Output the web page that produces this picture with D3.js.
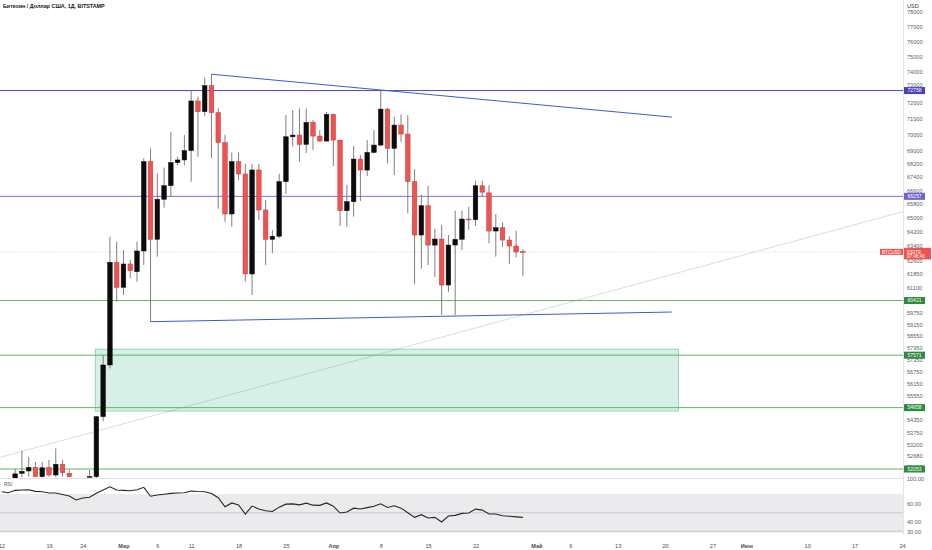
<!DOCTYPE html>
<html>
<head>
<meta charset="utf-8">
<script src="https://cdn.jsdelivr.net/npm/d3@7"></script>
<style>
  html, body { margin: 0; padding: 0; background: #fff; }
  svg { display: block; font-family: "Liberation Sans", Arial, sans-serif; }
</style>
</head>
<body>
<div id="chart"></div>
<script>
// daily bars, BTC/USD, Feb 12 - Apr 29 2024 (null = bar sits below the visible pane)
const days = [
  "02-12","02-13","02-14","02-15","02-16","02-17","02-18","02-19","02-20","02-21",
  "02-22","02-23","02-24","02-25","02-26","02-27","02-28","02-29","03-01","03-02",
  "03-03","03-04","03-05","03-06","03-07","03-08","03-09","03-10","03-11","03-12",
  "03-13","03-14","03-15","03-16","03-17","03-18","03-19","03-20","03-21","03-22",
  "03-23","03-24","03-25","03-26","03-27","03-28","03-29","03-30","03-31","04-01",
  "04-02","04-03","04-04","04-05","04-06","04-07","04-08","04-09","04-10","04-11",
  "04-12","04-13","04-14","04-15","04-16","04-17","04-18","04-19","04-20","04-21",
  "04-22","04-23","04-24","04-25","04-26","04-27","04-28","04-29"
];
const open = [
  null,null,51000,51855,51961,52131,51700,52131,51777,52270,
  51855,null,null,51690,51700,54519,57072,62500,61134,62407,
  61983,63130,68323,63787,66085,66886,68262,68425,68991,72093,
  71414,73077,71351,69481,65231,68323,67582,61857,67822,65462,
  63787,63960,67123,69844,69949,69376,70739,69887,69580,71241,
  69640,65418,65941,68480,67816,68885,69333,71576,69130,70570,
  70011,67130,64027,65708,63460,63800,61256,63463,63790,64940,
  64900,66880,66462,64254,64443,63744,63407,63100
];
const high = [
  null,null,52050,52900,52610,52380,52380,52470,53015,52470,
  52020,null,null,52007,54560,57579,63934,63652,63186,62628,
  63652,68528,69137,67624,67960,70161,68625,69957,72799,72368,
  73596,73818,71629,69957,68870,68869,68183,68183,68183,66040,
  64311,67600,71197,71513,71620,71620,70883,70260,71400,71300,
  69640,66922,69272,68722,69640,70259,72763,71658,71090,71240,
  71197,67870,66350,66880,64380,64600,64030,65420,65420,65650,
  67177,67177,66922,65228,64750,63970,64270,63222
];
const low = [
  null,null,50800,51680,51700,51680,51670,51700,51680,51700,
  51680,null,null,51660,51500,54300,56900,60359,60718,61639,
  61437,62352,59300,62812,65596,66237,68123,68100,67120,68625,
  71150,68528,65540,64788,64500,67219,61437,60717,64882,62350,
  63001,63850,66400,69250,68323,68850,69027,69540,69540,68057,
  64540,64500,65072,65982,67457,68820,69250,68219,67517,69520,
  65268,61300,62150,62350,61690,59650,60870,59650,63180,64311,
  64556,66220,63558,62812,63368,62406,62776,61763
];
const close = [
  null,null,51830,51947,52131,51700,52110,51777,52270,51883,
  51700,null,null,51710,54519,57072,62500,61134,62407,62038,
  63130,68323,63787,66085,66886,68262,68425,68991,72093,71414,
  73077,71351,69481,65231,68323,67582,61857,67822,65462,63787,
  63960,67123,69844,69949,69376,70739,69887,69580,71241,69640,
  65418,65941,68480,67816,68885,69333,71576,69130,70570,70011,
  67130,64027,65708,63460,63800,61256,63463,63780,64940,64900,
  66880,66503,64254,64443,63744,63407,63071,63079
];
const rsi = [
  72.4,71.4,73.9,74.2,74.5,72.8,72.4,71.1,71.1,69.5,
  67.9,63.7,65.8,66.5,70.7,74.2,77.7,74.2,73.9,73.5,
  74.5,77.1,67.6,68.9,69.8,70.7,71.0,71.4,73.2,72.6,
  72.4,70.5,66.1,56.3,60.5,58.4,48.6,57.1,54.0,52.1,
  51.4,56.0,59.2,59.5,58.4,60.2,58.1,57.9,60.5,57.0,
  49.7,50.7,54.9,54.0,55.5,57.0,59.5,55.6,57.4,54.9,
  50.0,45.1,47.9,44.4,45.1,40.2,46.5,47.2,49.3,49.7,
  53.9,52.8,48.6,48.6,46.8,46.2,45.6,45.1
];

// horizontal levels
const levelValues = [72758, 66257, 60421, 57571, 54958, 52053];
const levelKinds = ["res1", "res2", "sup", "sup", "sup", "sup"];

// drawings: [date, price]
const upperTrend = [["03-14", 73818], ["05-21", 71070]];
const lowerTrend = [["03-05", 59300], ["05-21", 59810]];
const grayRay = [["02-12", 52610], ["04-29", 59650]];
const zone = { from: "02-25T20:00", to: "05-22", top: 57880, bottom: 54790 };

const lastPrice = 63079;
const countdown = "07:46:40";

const priceTicks = [78000, 77000, 76000, 75000, 74000, 73000, 72000, 71000, 70000, 69000,
  68200, 67400, 66600, 65800, 65000, 64200, 63400, 62600, 61850, 61100,
  59750, 59150, 58550, 57950, 57350, 56750, 56150, 55550, 54350, 53750,
  53200, 52680, 52160];
const rsiTicks = [60, 40, 30];
const timeTickDates = ["02-12","02-19","02-24","03-01","03-06","03-11","03-18","03-25","04-01",
  "04-08","04-15","04-22","05-01","05-06","05-13","05-20","05-27","06-01","06-10","06-17","06-24"];
const timeTickLabels = ["12","19","24","Мар","6","11","18","25","Апр",
  "8","15","22","Май","6","13","20","27","Июн","10","17","24"];
const monthLabels = ["Мар", "Апр", "Май", "Июн"];

const width = 932, height = 550;
const plotR = 903, mainB = 478, rsiB = 535;

const parse = s => d3.isoParse("2024-" + s + (s.includes("T") ? "Z" : "T00:00Z"));

const svg = d3.select("#chart").append("svg")
  .attr("width", width).attr("height", height)
  .attr("viewBox", `0 0 ${width} ${height}`);

const x = d3.scaleUtc()
  .domain([parse("02-12"), parse("06-24")])
  .range([1.6, 902]);
const y = d3.scaleLog()
  .domain([51640, 78830])
  .range([mainB, 0]);
const yR = d3.scaleLinear()
  .domain([30, 70])
  .range([531.5, 494]);

const style = {
  res1: { line: "#4b45c8", label: "#4a3fc0" },
  res2: { line: "#7b6fe0", label: "#6f62d2" },
  sup: { line: "#5cb860", label: "#2e8b3c" }
};

const defs = svg.append("defs");
defs.append("clipPath").attr("id", "clipMain")
  .append("rect").attr("x", 0).attr("y", 0).attr("width", plotR).attr("height", mainB);
defs.append("clipPath").attr("id", "clipRsi")
  .append("rect").attr("x", 0).attr("y", mainB).attr("width", plotR).attr("height", rsiB - mainB);

// ---------- RSI pane ----------
const rsiG = svg.append("g").attr("clip-path", "url(#clipRsi)");
rsiG.append("rect")
  .attr("x", 0).attr("width", plotR)
  .attr("y", yR(70)).attr("height", yR(30) - yR(70))
  .attr("fill", "#ebebee");
rsiG.append("line")
  .attr("x1", 0).attr("x2", plotR).attr("y1", yR(50)).attr("y2", yR(50))
  .attr("stroke", "#c9c9ce").attr("stroke-width", 1);
rsiG.append("line")
  .attr("x1", 0).attr("x2", plotR).attr("y1", yR(30)).attr("y2", yR(30))
  .attr("stroke", "#d0d0d5").attr("stroke-width", 1.6);
rsiG.append("path")
  .datum(rsi.map((v, i) => [parse(days[i]), v]))
  .attr("fill", "none")
  .attr("stroke", "#262626")
  .attr("stroke-width", 1.1)
  .attr("d", d3.line().x(d => x(d[0])).y(d => yR(d[1])));
svg.append("text").attr("x", 4).attr("y", 486)
  .attr("font-size", 5).attr("fill", "#555").text("RSI");

// pane borders
svg.append("line").attr("x1", 0).attr("x2", plotR).attr("y1", mainB + 0.5).attr("y2", mainB + 0.5)
  .attr("stroke", "#e3e4e8");
svg.append("line").attr("x1", plotR + 0.5).attr("x2", plotR + 0.5).attr("y1", 0).attr("y2", rsiB)
  .attr("stroke", "#e3e4e8");

// ---------- main pane ----------
const main = svg.append("g").attr("clip-path", "url(#clipMain)");

// light gray ray, extended across the pane
const gx0 = x(parse(grayRay[0][0])), gy0 = y(grayRay[0][1]);
const gx1 = x(parse(grayRay[1][0])), gy1 = y(grayRay[1][1]);
const gs = (gy1 - gy0) / (gx1 - gx0);
main.append("line")
  .attr("x1", 0).attr("y1", gy0 + gs * (0 - gx0))
  .attr("x2", plotR).attr("y2", gy0 + gs * (plotR - gx0))
  .attr("stroke", "#d4d4d4").attr("stroke-width", 0.8);

// demand zone
main.append("rect")
  .attr("x", x(parse(zone.from)))
  .attr("width", x(parse(zone.to)) - x(parse(zone.from)))
  .attr("y", y(zone.top))
  .attr("height", y(zone.bottom) - y(zone.top))
  .attr("fill", "rgba(0,160,110,0.16)")
  .attr("stroke", "rgba(0,160,110,0.45)")
  .attr("stroke-width", 0.8);

// current price line
main.append("line")
  .attr("x1", 0).attr("x2", plotR).attr("y1", y(lastPrice)).attr("y2", y(lastPrice))
  .attr("stroke", "#e2b3b3").attr("stroke-width", 0.6).attr("stroke-dasharray", "1,1.5");

// horizontal levels
main.selectAll("line.level")
  .data(levelValues)
  .enter().append("line")
  .attr("class", "level")
  .attr("x1", 0).attr("x2", plotR)
  .attr("y1", d => y(d)).attr("y2", d => y(d))
  .attr("stroke", (d, i) => style[levelKinds[i]].line)
  .attr("stroke-width", 1);

// trend lines
[upperTrend, lowerTrend].forEach(t => {
  main.append("line")
    .attr("x1", x(parse(t[0][0]))).attr("y1", y(t[0][1]))
    .attr("x2", x(parse(t[1][0]))).attr("y2", y(t[1][1]))
    .attr("stroke", "#3f5cc8").attr("stroke-width", 1);
});

// candles
const bars = days.map((d, i) => ({ t: parse(d), o: open[i], h: high[i], l: low[i], c: close[i] }))
  .filter(b => b.o != null);
const bw = 4.6;
const candle = main.append("g").selectAll("g")
  .data(bars)
  .enter().append("g");
candle.append("line")
  .attr("x1", d => x(d.t)).attr("x2", d => x(d.t))
  .attr("y1", d => y(d.h)).attr("y2", d => y(d.l))
  .attr("stroke", "#707070").attr("stroke-width", 0.9);
candle.append("rect")
  .attr("x", d => x(d.t) - bw / 2)
  .attr("width", bw)
  .attr("y", d => y(Math.max(d.o, d.c)))
  .attr("height", d => Math.max(0.9, Math.abs(y(d.o) - y(d.c))))
  .attr("fill", d => d.c >= d.o ? "#0c0c0c" : "#ef5350")
  .attr("stroke", d => d.c >= d.o ? "#0c0c0c" : "#c23f3c")
  .attr("stroke-width", 0.5);

// ---------- axes ----------
const yAxis = svg.append("g")
  .attr("transform", `translate(${plotR + 3},0)`)
  .call(d3.axisRight(y).tickValues(priceTicks).tickFormat(d3.format("d")).tickSize(0));
yAxis.select(".domain").remove();
yAxis.selectAll("text")
  .attr("x", 1).attr("font-size", 5.6).attr("fill", "#5d606b")
  .attr("font-family", "Liberation Sans, Arial, sans-serif");
// the 73000 tick sits just above the 72758 tag; lift it clear of the tag
yAxis.selectAll(".tick").filter(d => d === 73000).select("text").attr("y", -2.4);

const rAxis = svg.append("g")
  .attr("transform", `translate(${plotR + 3},0)`)
  .call(d3.axisRight(yR).tickValues(rsiTicks).tickFormat(d3.format(".2f")).tickSize(0));
rAxis.select(".domain").remove();
rAxis.selectAll("text")
  .attr("x", 1).attr("font-size", 5.6).attr("fill", "#5d606b")
  .attr("font-family", "Liberation Sans, Arial, sans-serif");
svg.append("text").attr("x", plotR + 4).attr("y", 481)
  .attr("font-size", 5.6).attr("fill", "#5d606b").text("100.00");

const xAxis = svg.append("g")
  .attr("transform", `translate(0,${rsiB + 6})`)
  .call(d3.axisBottom(x)
    .tickValues(timeTickDates.map(parse))
    .tickFormat((d, i) => timeTickLabels[i])
    .tickSize(0));
xAxis.select(".domain").remove();
xAxis.selectAll("text")
  .attr("font-size", 5.6).attr("fill", "#4a4d57")
  .attr("font-weight", (d, i) => monthLabels.includes(timeTickLabels[i]) ? "bold" : "normal")
  .attr("font-family", "Liberation Sans, Arial, sans-serif");

// ---------- axis labels for levels ----------
const tag = svg.append("g");
levelValues.forEach((v, i) => {
  const yy = y(v);
  tag.append("rect")
    .attr("x", plotR + 1).attr("y", yy - 3.5).attr("width", 21).attr("height", 7)
    .attr("fill", style[levelKinds[i]].label);
  tag.append("text")
    .attr("x", plotR + 11.5).attr("y", yy + 1.8)
    .attr("text-anchor", "middle").attr("font-size", 5).attr("fill", "#fff")
    .text(v);
});

// current price tag
const py = y(lastPrice);
tag.append("rect")
  .attr("x", plotR + 1).attr("y", py - 4).attr("width", 27).attr("height", 11.5)
  .attr("fill", "#ef5350");
tag.append("text").attr("x", plotR + 4).attr("y", py + 1.8)
  .attr("font-size", 5).attr("fill", "#fff").text(lastPrice);
tag.append("text").attr("x", plotR + 4).attr("y", py + 6.4)
  .attr("font-size", 4.6).attr("fill", "#fff").text(countdown);
tag.append("rect")
  .attr("x", plotR - 23).attr("y", py - 3).attr("width", 23).attr("height", 6)
  .attr("fill", "#ef5350");
tag.append("text").attr("x", plotR - 11.5).attr("y", py + 1.7)
  .attr("text-anchor", "middle").attr("font-size", 4.6).attr("fill", "#fff").text("BTCUSD");

// header
svg.append("text").attr("x", 3).attr("y", 7.5)
  .attr("font-size", 5.4).attr("font-weight", "bold").attr("fill", "#131722")
  .text("Биткоин / Доллар США, 1Д, BITSTAMP");
svg.append("rect").attr("x", plotR + 1).attr("y", 0).attr("width", 28).attr("height", 10)
  .attr("fill", "#fff");
svg.append("text").attr("x", plotR + 4).attr("y", 7.5)
  .attr("font-size", 5.6).attr("fill", "#333").text("USD");
</script>
</body>
</html>
